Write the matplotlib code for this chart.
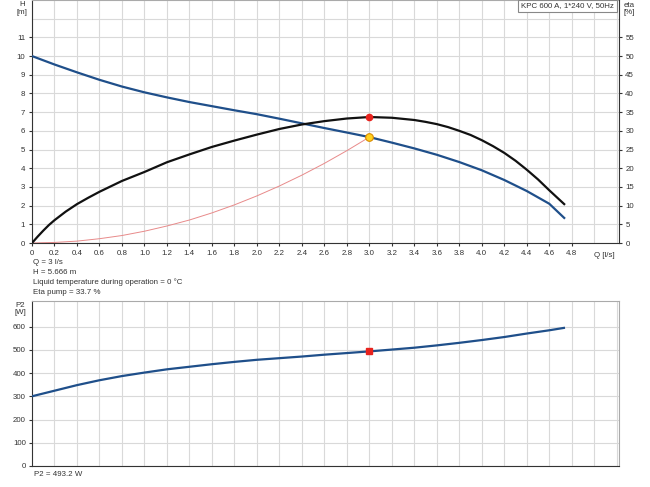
import numpy as np
import matplotlib
matplotlib.use("Agg")
from matplotlib import pyplot as plt

plt.rcParams['font.family'] = ['Liberation Sans', 'DejaVu Sans']
plt.rcParams['font.size'] = 5.7

# pump curve H [m]
q_h = [0, 0.2, 0.4, 0.6, 0.8, 1.0, 1.2, 1.4, 1.6, 1.8, 2.0, 2.2, 2.4, 2.6, 2.8, 3.0,
       3.2, 3.4, 3.6, 3.8, 4.0, 4.2, 4.4, 4.6, 4.74]
h = [10.0, 9.55, 9.13, 8.73, 8.37, 8.06, 7.79, 7.54, 7.32, 7.10, 6.89, 6.65, 6.40, 6.15,
     5.91, 5.666, 5.37, 5.06, 4.72, 4.33, 3.89, 3.37, 2.78, 2.10, 1.30]

# efficiency eta [%]
q_eta = [0, 0.05, 0.1, 0.15, 0.2, 0.3, 0.4, 0.5, 0.6, 0.8, 1.0, 1.2, 1.4, 1.6, 1.8, 2.0,
         2.2, 2.4, 2.6, 2.8, 3.0, 3.2, 3.4, 3.5, 3.6, 3.7, 3.8, 3.9, 4.0, 4.1, 4.2, 4.3,
         4.4, 4.5, 4.6, 4.74]
eta = [0, 1.7, 3.3, 4.8, 6.1, 8.4, 10.4, 12.1, 13.7, 16.6, 19.0, 21.6, 23.7, 25.7, 27.4,
       29.0, 30.5, 31.7, 32.6, 33.3, 33.7, 33.5, 32.9, 32.4, 31.8, 31.0, 30.0, 28.9, 27.5,
       25.9, 24.1, 22.0, 19.6, 17.0, 14.1, 10.2]

# system curve H [m]
q_sys = [0, 0.2, 0.4, 0.6, 0.8, 1.0, 1.2, 1.4, 1.6, 1.8, 2.0, 2.2, 2.4, 2.6, 2.8, 3.0]
h_sys = [0, 0.03, 0.10, 0.23, 0.40, 0.63, 0.91, 1.23, 1.61, 2.04, 2.52, 3.05, 3.63, 4.26,
         4.94, 5.666]

# shaft power P2 [W]
q_p2 = [0, 0.2, 0.4, 0.6, 0.8, 1.0, 1.2, 1.4, 1.6, 1.8, 2.0, 2.2, 2.4, 2.6, 2.8, 3.0,
        3.2, 3.4, 3.6, 3.8, 4.0, 4.2, 4.4, 4.6, 4.74]
p2 = [300, 324, 348, 369, 387, 402, 416, 427, 438, 448, 457, 464, 471, 479, 486, 493.2,
      501, 509, 519, 530, 542, 555, 570, 584, 595]

duty_q = 3.0
duty_h = 5.666
duty_eta = 33.7
duty_p2 = 493.2

x_ticks = [round(0.2 * i, 1) for i in range(25)]
x_labels = ['0'] + ['%.1f' % v for v in x_ticks[1:]]

BLUE = '#1f4f8a'
DARK = '#333333'
GRID = '#d9d9d9'

fig = plt.figure(figsize=(6.5, 4.87), dpi=100)
ax = fig.add_axes([32 / 650, 1 - 243 / 487, 587 / 650, 243 / 487])
ax2 = ax.twinx()

ax.set_xlim(0, 5.22)
ax.set_ylim(0, 13)
ax2.set_ylim(0, 65)

ax.set_xticks(x_ticks)
ax.set_xticklabels(x_labels)
ax.set_xticks([5.0, 5.2], minor=True)
ax.set_yticks(range(0, 12))
ax.set_yticks([12], minor=True)
ax2.set_yticks(range(0, 60, 5))
ax.grid(True, which='both', color=GRID, lw=0.8)
ax.set_axisbelow(True)
ax.tick_params(which='major', direction='out', length=2.5, width=0.8, color=DARK,
               labelcolor=DARK, pad=2.5)
ax.tick_params(which='minor', length=0)
ax2.tick_params(direction='out', length=2.5, width=0.8, color=DARK, labelcolor=DARK, pad=2)
for s in ['left', 'bottom']:
    ax.spines[s].set_color(DARK)
ax.spines['top'].set_color('#aaaaaa')
ax.spines['right'].set_visible(False)
ax2.spines['right'].set_color(DARK)
ax2.spines['top'].set_visible(False)
ax2.spines['left'].set_visible(False)
ax2.spines['bottom'].set_visible(False)

ax.plot(q_sys, h_sys, color='#e88a8a', lw=0.7, zorder=2)
ax.plot(q_h, h, color=BLUE, lw=1.6, zorder=3, solid_capstyle='butt')
ax2.plot(q_eta, eta, color='#111111', lw=1.6, zorder=3, solid_capstyle='butt')
ax2.plot([duty_q], [duty_eta], 'o', ms=4.5, color='#e8231e', zorder=5)
ax.plot([duty_q], [duty_h], 'o', ms=5.5, mfc='#ffd21f', mec='#d98a00', mew=0.8, zorder=5)

ax.text(5.0, -0.5, 'Q [l/s]', ha='left', va='top', color=DARK)
ax.text(-0.09, 12.54, 'H\n[m]', ha='center', va='center', color=DARK, linespacing=1.05)
ax2.text(5.26, 62.6, 'eta\n[%]', ha='left', va='center', color=DARK, linespacing=1.05)
ax.text(4.35, 12.68, 'KPC 600 A, 1*240 V, 50Hz', ha='left', va='center', color=DARK,
        bbox=dict(boxstyle='square,pad=0.35', fc='white', ec='#888888', lw=0.8), zorder=6)

info = ['Q = 3 l/s', 'H = 5.666 m', 'Liquid temperature during operation = 0 \u00b0C',
        'Eta pump = 33.7 %']
for i, line in enumerate(info):
    fig.text(33 / 650, 1 - (263 + 9.7 * i) / 487, line, ha='left', va='center', color=DARK)

# power plot
bx = fig.add_axes([32 / 650, 1 - 466 / 487, 587 / 650, 165 / 487])
bx.set_xlim(0, 5.22)
bx.set_ylim(0, 710)
bx.set_xticks([])
bx.set_xticks([round(0.2 * i, 1) for i in range(1, 27)], minor=True)
bx.set_yticks(range(0, 700, 100))
bx.grid(True, which='both', color=GRID, lw=0.8)
bx.set_axisbelow(True)
bx.tick_params(axis='y', direction='out', length=2.5, width=0.8, color=DARK,
               labelcolor=DARK, pad=2)
bx.tick_params(which='minor', length=0)
for s in ['left', 'bottom']:
    bx.spines[s].set_color(DARK)
for s in ['top', 'right']:
    bx.spines[s].set_color('#aaaaaa')

bx.plot(q_p2, p2, color=BLUE, lw=1.6, zorder=3, solid_capstyle='butt')
bx.plot([duty_q], [duty_p2], 's', ms=3.8, color='#e8231e', zorder=5)
bx.text(-0.107, 674, 'P2\n[W]', ha='center', va='center', color=DARK, linespacing=1.05)
fig.text(34 / 650, 1 - 475 / 487, 'P2 = 493.2 W', ha='left', va='center', color=DARK)

fig.savefig('out.png', dpi=100)
